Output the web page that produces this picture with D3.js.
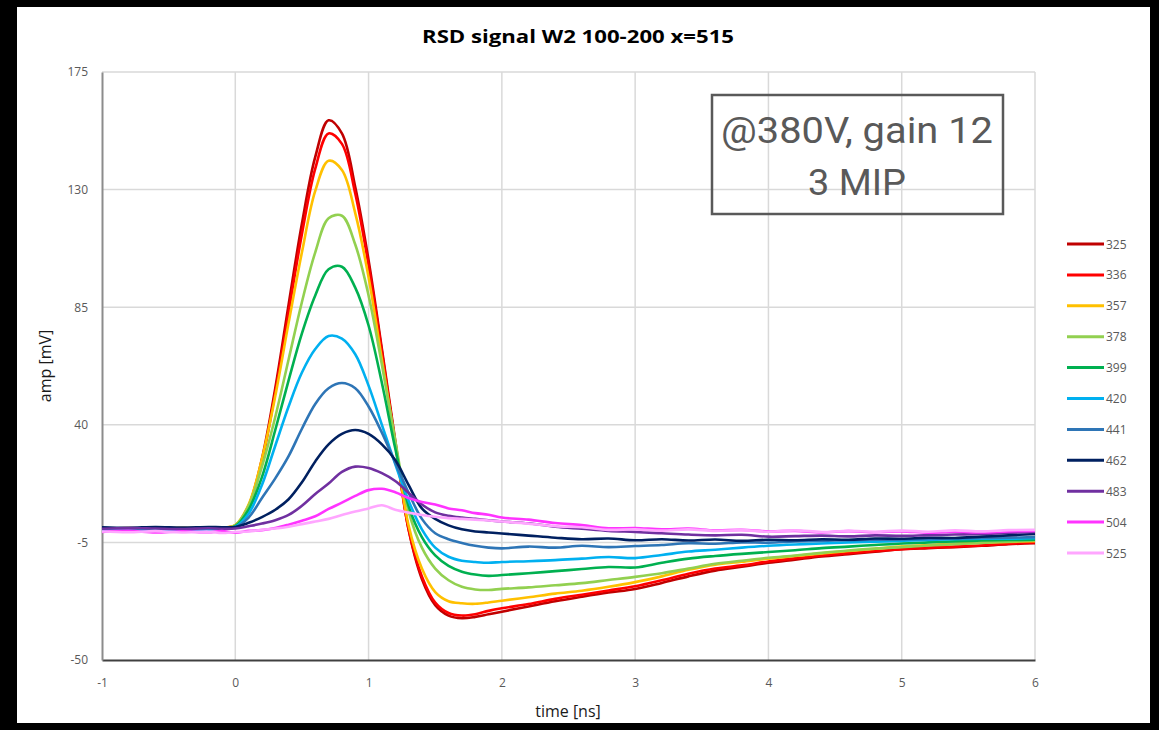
<!DOCTYPE html>
<html>
<head>
<meta charset="utf-8">
<script src="https://cdn.jsdelivr.net/npm/d3@7"></script>
<style>
  html, body { margin: 0; padding: 0; background: #000; }
  svg { display: block; }
</style>
</head>
<body>
<div id="chart"></div>
<script>
//Datos
const times = [-1, -0.8, -0.6, -0.4, -0.2, -0.1, 0,
  0.1, 0.2, 0.3, 0.4, 0.5, 0.6, 0.7, 0.8, 0.9, 1.0,
  1.1, 1.2, 1.3, 1.4, 1.5, 1.6, 1.7, 1.8, 1.9, 2.0,
  2.2, 2.4, 2.6, 2.8, 3.0, 3.2, 3.4, 3.6, 3.8, 4.0,
  4.2, 4.4, 4.6, 4.8, 5.0, 5.2, 5.4, 5.6, 5.8, 6.0];

const v325 = [0.3, 0.2, 0.4, 0.3, 0.5, 0.6, 1.5,
  9, 27, 54, 86, 117, 142.5, 156.5, 151.5, 131, 103,
  69, 34, 0, -19, -29, -33, -34, -33.5, -32.5, -31.5,
  -29.5, -27.5, -25.8, -24.2, -22.8, -20.5, -18, -15.8, -14.3, -12.8,
  -11.6, -10.4, -9.5, -8.6, -7.6, -7.2, -6.8, -6.3, -5.7, -5.3];
const v336 = [-0.2, 0.1, -0.3, 0, 0.2, 0.3, 1.3,
  8.5, 26, 52.5, 83, 113, 138, 151.5, 147.5, 128.5, 101,
  68, 33, 0, -18, -28, -32, -33, -32.5, -31.2, -30.2,
  -28.6, -26.6, -25, -23.4, -21.8, -19.5, -17, -15, -13.8, -12.3,
  -11.1, -10, -9.1, -8.3, -7.6, -7, -6.6, -6.2, -5.5, -5];
const v357 = [0.2, 0.5, 0.3, 0.6, 0.4, 0.6, 1.6,
  9.5, 27, 51, 79, 106, 129.5, 141, 137.5, 121, 96.5,
  65, 33, 1.5, -15, -24, -27.5, -28.3, -28.5, -28, -27.3,
  -26, -24.6, -23.5, -22, -20.2, -18, -15.5, -13.5, -12.4, -11.2,
  -10.2, -9.2, -8.3, -7.4, -6.6, -6, -5.5, -5.1, -4.8, -4.5];
const v378 = [0, 0.3, 0.1, 0.4, 0.2, 0.5, 1.5,
  9, 24, 43, 65, 87, 106, 119, 120, 109, 89.5,
  63, 34, 7, -7, -15, -19.5, -22, -23, -23.2, -22.8,
  -22.2, -21.4, -20.6, -19.4, -18.2, -16.8, -15, -13.2, -12, -10.9,
  -10, -9, -8.1, -7.4, -6.8, -6.2, -5.7, -5.2, -4.7, -4.3];
const v399 = [0.4, 0.1, 0.5, 0.2, 0.6, 0.4, 1.2,
  7.5, 20, 38, 57, 75, 89.5, 99.5, 100.5, 92.5, 78,
  56, 31, 9, -3, -10, -14, -16.2, -17.3, -17.8, -17.5,
  -16.8, -16, -15.2, -14.4, -14.6, -12.8, -11.2, -10.2, -9.4, -8.7,
  -8, -7.2, -6.6, -6, -5.4, -5, -4.6, -4.3, -4.1, -4];
const v420 = [-0.3, 0, -0.5, -0.2, 0, 0.3, 1,
  6, 17, 32, 47, 60, 69, 74, 73, 67, 55,
  40, 25, 11, 0, -7, -10.5, -12, -12.5, -12.8, -12.5,
  -12.2, -11.8, -11.2, -10.6, -11, -9.8, -8.5, -7.8, -7, -6.3,
  -5.8, -5.4, -5, -4.7, -4.4, -4.1, -3.8, -3.6, -3.6, -3.4];
const v441 = [0.5, 0.2, 0.6, 0.3, 0.5, 0.4, 0.8,
  4.5, 12, 19.5, 28, 38.5, 48, 54, 56, 54, 47,
  37, 25.5, 14, 4, -1.5, -3.8, -5.2, -6.3, -7, -7.3,
  -6.6, -7, -6.3, -6.8, -6.4, -6, -5.3, -5.5, -5, -5.1,
  -4.6, -4.4, -4.2, -4, -3.9, -3.7, -3.5, -3.3, -3.2, -3];
const v462 = [0.8, 0.6, 0.9, 0.7, 0.9, 0.8, 0.9,
  2.5, 4.7, 7.5, 11.5, 18, 26, 32.5, 36.5, 38, 36.5,
  32.5, 26.5, 17, 8, 4, 1.5, 0, -0.8, -1.2, -1.6,
  -2.4, -3.2, -3.8, -3.5, -4.2, -3.8, -4.3, -3.9, -4.4, -4,
  -4.2, -3.8, -4, -3.5, -3.6, -3.2, -3.3, -2.8, -2.3, -1.8];
const v483 = [0.2, 0.5, 0.3, 0.1, 0.4, 0.2, 0.3,
  1.2, 2.2, 3.5, 5.5, 9, 13.5, 17.5, 22, 24, 23.5,
  21.5, 18.5, 14, 9.5, 6.5, 5.2, 4.5, 4, 3.5, 3,
  2.3, 1, 0.2, -0.6, -1, -1.5, -2, -2.3, -2.1, -2.8,
  -2.6, -2.4, -2.7, -2.3, -2.5, -2.2, -2, -1.8, -1.3, -1];
const v504 = [-1, -0.6, -1.2, -0.8, -1.1, -0.7, -1.3,
  -0.6, -0.3, 0.5, 1.8, 3.3, 5, 7.8, 10.2, 12.8, 15,
  15.5, 14.2, 12, 10.5, 9.5, 8, 7.3, 6.2, 5.6, 4.5,
  3.7, 2.4, 1.6, 0.4, 0.5, 0, 0.3, -0.4, -0.2, -0.8,
  -0.6, -1.2, -0.7, -1.1, -0.8, -1.3, -0.9, -1.2, -0.8, -0.6];
const v525 = [-0.8, -1.1, -0.7, -1.2, -0.9, -1.4, -1,
  -0.8, -0.2, 0.3, 1, 2, 3, 4, 5.5, 6.8, 8,
  9.2, 7.5, 6.4, 5.5, 4.8, 4.3, 4, 3.7, 3.4, 3,
  2.2, 1.2, 0.8, -0.2, 0, -0.5, 0, -0.6, -0.3, -0.9,
  -0.4, -1, -0.6, -0.9, -0.5, -0.9, -0.4, -0.8, -0.3, -0.2];

const seriesNames = ['325', '336', '357', '378', '399', '420', '441', '462', '483', '504', '525'];
const seriesValues = [v325, v336, v357, v378, v399, v420, v441, v462, v483, v504, v525];
const seriesColors = ['#C00000', '#FF0000', '#FFC000', '#92D050', '#00B050', '#00B0F0',
  '#2E75B6', '#002060', '#7030A0', '#FF33FF', '#FFA6FF'];

const xTicks = [-1, 0, 1, 2, 3, 4, 5, 6];
const yTicks = [-50, -5, 40, 85, 130, 175];

const GRAY_TEXT = '#595959';

//Lienzo
const W = 1159, H = 730;
const plot = {left: 102, right: 1035, top: 72, bottom: 660};

let svg = d3.select('#chart')
  .append('svg')
    .attr('width', W)
    .attr('height', H);

svg.append('rect')
  .attr('x', 17).attr('y', 7)
  .attr('width', 1133).attr('height', 716)
  .attr('fill', '#fff');

let x = d3.scaleLinear().domain([-1, 6]).range([plot.left, plot.right]);
let y = d3.scaleLinear().domain([-50, 175]).range([plot.bottom, plot.top]);

//Rejilla
let grid = svg.append('g');
grid.selectAll('.vgrid')
  .data(xTicks.slice(1))
  .enter().append('line')
  .attr('x1', d => x(d)).attr('x2', d => x(d))
  .attr('y1', plot.top).attr('y2', plot.bottom)
  .attr('stroke', '#d9d9d9').attr('stroke-width', 1.5);
grid.selectAll('.hgrid')
  .data(yTicks.slice(1))
  .enter().append('line')
  .attr('x1', plot.left).attr('x2', plot.right)
  .attr('y1', d => y(d)).attr('y2', d => y(d))
  .attr('stroke', '#d9d9d9').attr('stroke-width', 1.5);

//Ejes (guion normal como en Excel)
let fmt = d => String(d).replace('\u2212', '-');

let xAxis = svg.append('g')
  .attr('transform', 'translate(0,' + plot.bottom + ')')
  .call(d3.axisBottom(x).tickValues(xTicks).tickFormat(fmt).tickSize(0).tickPadding(18));
xAxis.select('.domain').attr('stroke', '#404040').attr('stroke-width', 2);
xAxis.selectAll('text')
  .style('font-family', '"Open Sans", sans-serif')
  .style('font-size', '12px')
  .attr('fill', GRAY_TEXT);

let yAxis = svg.append('g')
  .attr('transform', 'translate(' + plot.left + ',0)')
  .call(d3.axisLeft(y).tickValues(yTicks).tickFormat(fmt).tickSize(0).tickPadding(14));
yAxis.select('.domain').attr('stroke', '#8c8c8c').attr('stroke-width', 2);
yAxis.selectAll('text')
  .style('font-family', '"Open Sans", sans-serif')
  .style('font-size', '12px')
  .attr('fill', GRAY_TEXT);

//Series
let line = d3.line()
  .x((d, i) => x(times[i]))
  .y(d => y(d))
  .curve(d3.curveCatmullRom.alpha(0.5));

svg.append('g')
  .selectAll('path')
  .data(seriesValues)
  .enter().append('path')
  .attr('d', d => line(d))
  .attr('fill', 'none')
  .attr('stroke', (d, i) => seriesColors[i])
  .attr('stroke-width', 2.6)
  .attr('stroke-linejoin', 'round');

//Leyenda
let legend = svg.append('g')
  .selectAll('g')
  .data(seriesNames)
  .enter().append('g')
  .attr('transform', (d, i) => 'translate(1067,' + (244 + i * 30.9) + ')');
legend.append('line')
  .attr('x1', 0).attr('x2', 37)
  .attr('stroke', (d, i) => seriesColors[i])
  .attr('stroke-width', 3);
legend.append('text')
  .attr('x', 39).attr('y', 4.5)
  .style('font-family', '"Open Sans", sans-serif')
  .style('font-size', '12px')
  .attr('fill', GRAY_TEXT)
  .text(d => d);

//Titulos
svg.append('text')
  .attr('x', 578).attr('y', 43)
  .attr('text-anchor', 'middle')
  .style('font-family', '"Open Sans", sans-serif')
  .style('font-weight', '700')
  .style('font-size', '17px')
  .attr('fill', '#000')
  .attr('textLength', 312)
  .attr('lengthAdjust', 'spacingAndGlyphs')
  .text('RSD signal W2 100-200 x=515');

svg.append('text')
  .attr('x', 568).attr('y', 717)
  .attr('text-anchor', 'middle')
  .style('font-family', '"Open Sans", sans-serif')
  .style('font-size', '16px')
  .attr('fill', '#1a1a1a')
  .text('time [ns]');

svg.append('text')
  .attr('transform', 'translate(51,366) rotate(-90)')
  .attr('text-anchor', 'middle')
  .style('font-family', '"Open Sans", sans-serif')
  .style('font-size', '16px')
  .attr('fill', '#1a1a1a')
  .text('amp [mV]');

//Anotacion
svg.append('rect')
  .attr('x', 712).attr('y', 95)
  .attr('width', 291).attr('height', 119)
  .attr('fill', 'none')
  .attr('stroke', '#595959')
  .attr('stroke-width', 2.5);

svg.append('text')
  .attr('x', 857).attr('y', 143)
  .attr('text-anchor', 'middle')
  .style('font-family', 'Roboto, sans-serif')
  .style('font-size', '36px')
  .attr('fill', GRAY_TEXT)
  .attr('textLength', 272)
  .attr('lengthAdjust', 'spacingAndGlyphs')
  .text('@380V, gain 12');

svg.append('text')
  .attr('x', 857).attr('y', 195)
  .attr('text-anchor', 'middle')
  .style('font-family', 'Roboto, sans-serif')
  .style('font-size', '36px')
  .attr('fill', GRAY_TEXT)
  .attr('textLength', 98)
  .attr('lengthAdjust', 'spacingAndGlyphs')
  .text('3 MIP');
</script>
</body>
</html>
